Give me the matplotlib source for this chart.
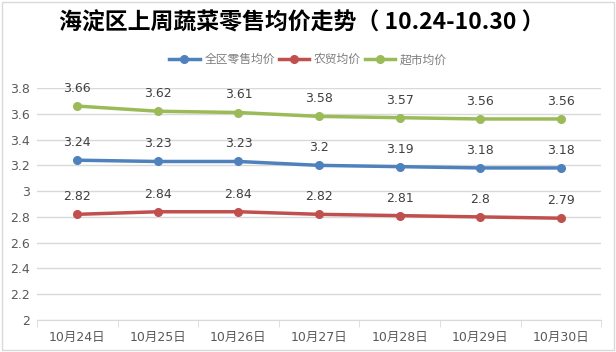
import matplotlib.pyplot as plt
from matplotlib.patches import Rectangle

plt.rcParams['font.family'] = ['DejaVu Sans', 'Noto Sans CJK SC']

dates = ['10月24日', '10月25日', '10月26日', '10月27日', '10月28日', '10月29日', '10月30日']
quanqu = [3.24, 3.23, 3.23, 3.2, 3.19, 3.18, 3.18]
nongmao = [2.82, 2.84, 2.84, 2.82, 2.81, 2.8, 2.79]
chaoshi = [3.66, 3.62, 3.61, 3.58, 3.57, 3.56, 3.56]

series = [('全区零售均价', quanqu, '#4f81bd'),
          ('农贸均价', nongmao, '#c0504d'),
          ('超市均价', chaoshi, '#9bbb59')]

fig = plt.figure(figsize=(6.16, 3.52), dpi=100)
ax = fig.add_axes([0.060, 0.0909, 0.916, 0.659])

x = range(len(dates))
for name, vals, col in series:
    ax.plot(x, vals, color=col, lw=2.5, marker='o', ms=5.5, label=name)
    for xi, v in zip(x, vals):
        ax.annotate(f'{v:g}', (xi, v), xytext=(0, 8), textcoords='offset points',
                    ha='center', va='bottom', fontsize=9, color='#404040')

ax.set_ylim(2, 3.8)
ax.set_yticks([2 + 0.2 * i for i in range(10)])
ax.set_yticklabels(['2', '2.2', '2.4', '2.6', '2.8', '3', '3.2', '3.4', '3.6', '3.8'])
ax.set_xlim(-0.5, len(dates) - 0.5)
ax.set_xticks(list(x))
ax.set_xticklabels(dates)
ax.set_xticks([i - 0.5 for i in range(len(dates) + 1)], minor=True)
ax.tick_params(axis='x', which='major', length=0, pad=8, labelsize=9, labelcolor='#595959')
ax.tick_params(axis='x', which='minor', length=5, color='#d9d9d9', direction='out')
ax.tick_params(axis='y', length=0, labelsize=9, labelcolor='#595959', pad=5)
ax.grid(axis='y', color='#d9d9d9', lw=1)
ax.set_axisbelow(True)
for s in ['top', 'right', 'left']:
    ax.spines[s].set_visible(False)
ax.spines['bottom'].set_color('#d9d9d9')

fig.text(0.49, 0.935, '海淀区上周蔬菜零售均价走势（ 10.24-10.30 ）', ha='center', va='center',
         fontsize=16.5, fontweight='bold', color='#000000',
         family=['Noto Sans CJK SC', 'DejaVu Sans'])
fig.legend(loc='center', bbox_to_anchor=(0.5, 0.83), ncol=3, frameon=False,
           prop={'family': ['Noto Sans CJK SC'], 'size': 8.5}, labelcolor='#7f7f7f',
           handlelength=2.6, columnspacing=0.3, handletextpad=0.4)

fig.patches.append(Rectangle((0.003, 0.005), 0.993, 0.99, transform=fig.transFigure,
                             fill=False, edgecolor='#d9d9d9', lw=1))

fig.savefig('out.png', dpi=100)
